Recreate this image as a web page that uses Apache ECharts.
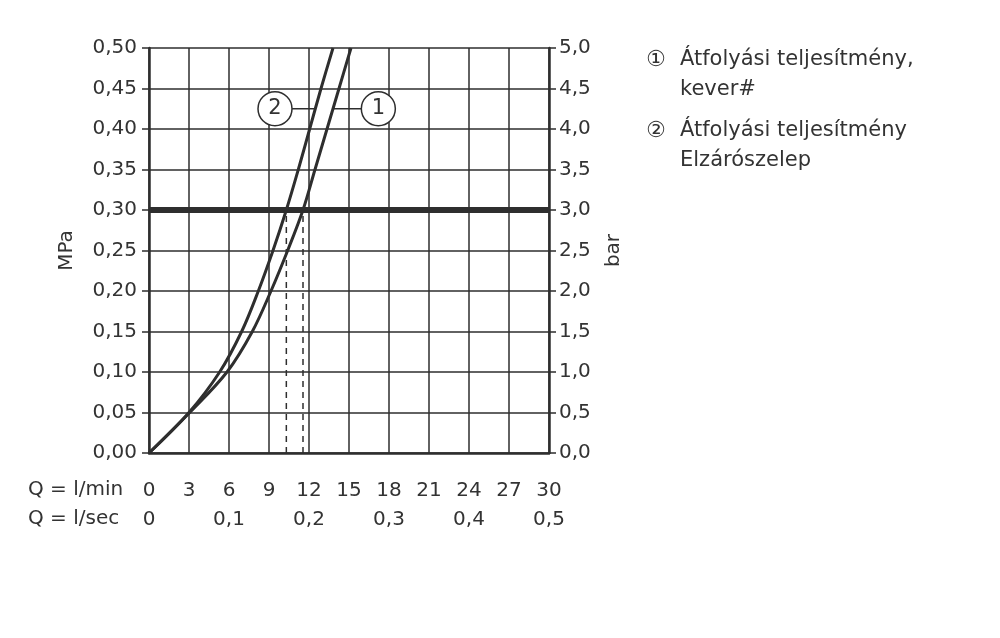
<!DOCTYPE html>
<html>
<head>
<meta charset="utf-8">
<script src="https://cdn.jsdelivr.net/npm/echarts@6/dist/echarts.min.js"></script>
<style>
  html, body { margin: 0; padding: 0; background: #fff; }
  #chart { width: 1000px; height: 638px; }
</style>
</head>
<body>
<div id="chart"></div>
<script>
// pressure steps (MPa) shared by both curves
var pressure = [0, 0.05, 0.10, 0.15, 0.20, 0.25, 0.30, 0.35, 0.40, 0.45, 0.50];
// flow in l/min
var flowMixer = [0, 3.05, 5.85, 7.75, 9.15, 10.4, 11.55, 12.45, 13.35, 14.25, 15.15]; // (1)
var flowValve = [0, 3.0, 5.3, 6.95, 8.2, 9.3, 10.3, 11.2, 12.05, 12.9, 13.8];        // (2)

var refPressure = 0.30;            // thick reference line
var dropFlows = [10.3, 11.55];     // dashed drops at 0,30 MPa
var calloutPressure = 0.425;
var calloutFlows = [9.45, 17.2];   // circle centres for (2) and (1)
var calloutNames = ["2", "1"];
var connector2 = [10.73, 12.5];
var connector1 = [13.8, 15.93];

var ink = "#2e2e2e", txt = "#333333";
var font = '"DejaVu Sans", "Noto Sans", sans-serif';
var fs = 20;
var comma = function (v, d) { return v.toFixed(d).replace(".", ","); };

function pairs(xs, ys) { return xs.map(function (x, i) { return [x, ys[i]]; }); }

var chart = echarts.init(document.getElementById("chart"), null, { renderer: "canvas" });

var series = [
  { type: "line", data: [[0, refPressure], [30, refPressure]], symbol: "none",
    lineStyle: { color: ink, width: 6 }, z: 3 }
];
dropFlows.forEach(function (q) {
  series.push({ type: "line", data: [[q, 0], [q, refPressure]], symbol: "none",
    lineStyle: { color: ink, width: 1.5, type: [6, 5] }, z: 2 });
});
series.push({ type: "line", data: pairs(connector2, [calloutPressure, calloutPressure]), symbol: "none",
  lineStyle: { color: ink, width: 1.5 }, z: 2 });
series.push({ type: "line", data: pairs(connector1, [calloutPressure, calloutPressure]), symbol: "none",
  lineStyle: { color: ink, width: 1.5 }, z: 2 });
series.push({ type: "line", data: pairs(flowMixer, pressure), smooth: 0.35,
  symbol: "none", lineStyle: { color: ink, width: 3 }, z: 5 });
series.push({ type: "line", data: pairs(flowValve, pressure), smooth: 0.35,
  symbol: "none", lineStyle: { color: ink, width: 3 }, z: 5 });
series.push({ type: "scatter", symbol: "circle", symbolSize: 34,
  data: calloutFlows.map(function (q, i) { return { value: [q, calloutPressure], name: calloutNames[i] }; }),
  itemStyle: { color: "#fff", borderColor: ink, borderWidth: 1.5, opacity: 1 },
  label: { show: true, position: "inside", formatter: "{b}", color: txt, fontSize: 21, fontFamily: font },
  z: 6 });

chart.setOption({
  animation: false,
  backgroundColor: "#fff",
  textStyle: { fontFamily: font, color: txt },
  grid: { left: 149, right: 451, top: 48, bottom: 185 },
  xAxis: [
    { type: "value", min: 0, max: 30, interval: 3,
      axisLine: { show: true, onZero: false, lineStyle: { color: ink, width: 2.5 } },
      axisTick: { show: false },
      splitLine: { show: true, lineStyle: { color: ink, width: 1.5 } },
      axisLabel: { color: txt, fontSize: fs, fontFamily: font, margin: 28 } },
    { type: "value", position: "bottom", min: 0, max: 0.5, interval: 0.1,
      axisLine: { show: false }, axisTick: { show: false }, splitLine: { show: false },
      axisLabel: { color: txt, fontSize: fs, fontFamily: font, margin: 57,
        formatter: function (v) { return v === 0 ? "0" : comma(v, 1); } } }
  ],
  yAxis: [
    { type: "value", min: 0, max: 0.5, interval: 0.05, name: "MPa",
      nameLocation: "middle", nameGap: 72, nameRotate: 90,
      nameTextStyle: { color: txt, fontSize: fs, fontFamily: font },
      axisLine: { show: true, onZero: false, lineStyle: { color: ink, width: 2.5 } },
      axisTick: { show: true, length: 7, lineStyle: { color: ink, width: 1.5 } },
      splitLine: { show: true, lineStyle: { color: ink, width: 1.5 } },
      axisLabel: { color: txt, fontSize: fs, fontFamily: font, margin: 12,
        formatter: function (v) { return comma(v, 2); } } },
    { type: "value", position: "right", min: 0, max: 5, interval: 0.5, name: "bar",
      nameLocation: "middle", nameGap: 55, nameRotate: 90,
      nameTextStyle: { color: txt, fontSize: fs, fontFamily: font },
      axisLine: { show: true, onZero: false, lineStyle: { color: ink, width: 2.5 } },
      axisTick: { show: true, length: 7, lineStyle: { color: ink, width: 1.5 } },
      splitLine: { show: false },
      axisLabel: { color: txt, fontSize: fs, fontFamily: font, margin: 10,
        formatter: function (v) { return comma(v, 1); } } }
  ],
  graphic: [
    { type: "text", left: 28, top: 480, style: { text: "Q = l/min", fill: txt, font: fs + "px " + font } },
    { type: "text", left: 28, top: 509, style: { text: "Q = l/sec", fill: txt, font: fs + "px " + font } },
    { type: "text", left: 646, top: 49, style: { text: "①", fill: txt, font: "22px " + font } },
    { type: "text", left: 680, top: 49, style: { text: "Átfolyási teljesítmény,", fill: txt, font: "21px " + font } },
    { type: "text", left: 680, top: 79, style: { text: "kever#", fill: txt, font: "21px " + font } },
    { type: "text", left: 646, top: 120, style: { text: "②", fill: txt, font: "22px " + font } },
    { type: "text", left: 680, top: 120, style: { text: "Átfolyási teljesítmény", fill: txt, font: "21px " + font } },
    { type: "text", left: 680, top: 150, style: { text: "Elzárószelep", fill: txt, font: "21px " + font } }
  ],
  series: series
});
</script>
</body>
</html>
